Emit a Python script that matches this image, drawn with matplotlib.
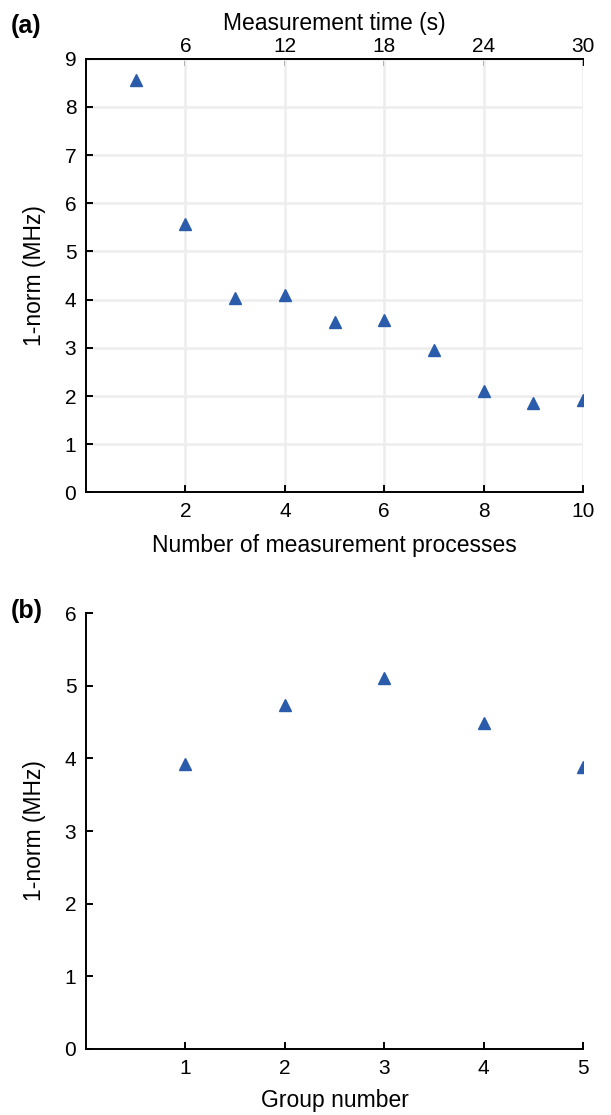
import matplotlib
matplotlib.use("Agg")
import matplotlib.pyplot as plt

plt.rcParams['font.family'] = ['Liberation Sans', 'DejaVu Sans']
plt.rcParams['font.size'] = 15

# panel (a)
n_proc = [1, 2, 3, 4, 5, 6, 7, 8, 9, 10]
norm_a = [8.55, 5.57, 4.03, 4.10, 3.54, 3.58, 2.96, 2.10, 1.86, 1.92]
time_ticks = [6, 12, 18, 24, 30]

# panel (b)
groups = [1, 2, 3, 4, 5]
norm_b = [3.92, 4.74, 5.10, 4.48, 3.88]

blue = '#2a5cab'
lab_fs = 16.5
tick_fs = 15

fig = plt.figure(figsize=(6.11, 11.15), dpi=100)
ax1 = fig.add_axes([0.1408, 0.5583, 0.8134, 0.3891])
ax2 = fig.add_axes([0.1408, 0.0592, 0.8134, 0.3910])

ax1.plot(n_proc, norm_a, linestyle='none', marker='^', markersize=8.5, color=blue)
ax1.set_xlim(0, 10)
ax1.set_ylim(0, 9)
ax1.set_xticks([2, 4, 6, 8, 10])
ax1.set_yticks(range(0, 10))
ax1.grid(True, color='#ededed', linewidth=1.8)
ax1.set_axisbelow(True)
ax1.spines['right'].set_visible(False)
for s in ['left', 'bottom', 'top']:
    ax1.spines[s].set_linewidth(1.4)
ax1.tick_params(direction='in', length=5, width=1.4, pad=7, labelsize=tick_fs)
ax1.set_xlabel('Number of measurement processes', fontsize=lab_fs, labelpad=9)
ax1.set_ylabel('1-norm (MHz)', fontsize=lab_fs)
ax1.yaxis.set_label_coords(-0.081, 0.5)

top = ax1.secondary_xaxis('top', functions=(lambda x: x * 3, lambda t: t / 3))
top.set_xticks(time_ticks)
top.tick_params(direction='in', length=5, width=1.4, pad=2, labelsize=tick_fs)
top.set_xlabel('Measurement time (s)', fontsize=lab_fs, labelpad=5)
top.spines['top'].set_linewidth(1.4)

ax2.plot(groups, norm_b, linestyle='none', marker='^', markersize=8.5, color=blue)
ax2.set_xlim(0, 5)
ax2.set_ylim(0, 6)
ax2.set_xticks(groups)
ax2.set_yticks(range(0, 7))
ax2.spines['right'].set_visible(False)
ax2.spines['top'].set_visible(False)
for s in ['left', 'bottom']:
    ax2.spines[s].set_linewidth(1.4)
ax2.tick_params(direction='in', length=5, width=1.4, pad=7, labelsize=tick_fs)
ax2.set_xlabel('Group number', fontsize=lab_fs, labelpad=8)
ax2.set_ylabel('1-norm (MHz)', fontsize=lab_fs)
ax2.yaxis.set_label_coords(-0.081, 0.5)

fig.text(0.018, 0.987, '(a)', fontsize=18, fontweight='bold', va='top')
fig.text(0.018, 0.463, '(b)', fontsize=18, fontweight='bold', va='top')

fig.savefig('out.png', dpi=100)
